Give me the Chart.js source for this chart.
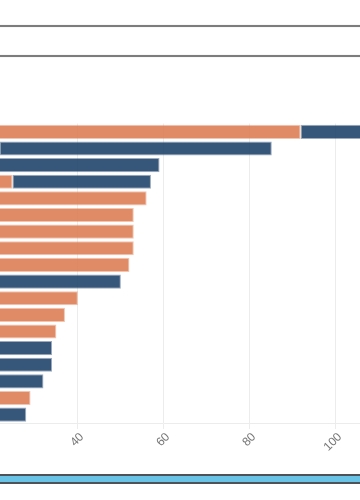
<!DOCTYPE html>
<html>
<head>
<meta charset="utf-8">
<script src="https://cdn.jsdelivr.net/npm/chart.js@4.4.1/dist/chart.umd.min.js"></script>
<style>
  html, body { margin: 0; padding: 0; background: #fff; width: 360px; height: 500px; overflow: hidden; }
  #frame { position: absolute; left: 0; top: 0; width: 360px; height: 500px; overflow: hidden; background: #fff; }
  .rule { position: absolute; left: 0; width: 360px; height: 2px; background: #7c7c7c; box-shadow: 0 0 1px #bbb; }
  #wrap { position: absolute; left: -135px; top: 0; width: 620px; height: 500px; }
  #bar { position: absolute; left: 0; top: 474px; width: 360px; height: 6px; background: #68c3e6; border-top: 2px solid #4d5358; border-bottom: 2px solid #4d5358; }
</style>
</head>
<body>
<div id="frame">
  <div class="rule" style="top:24.5px"></div>
  <div class="rule" style="top:54.5px"></div>
  <div id="wrap"><canvas id="c"></canvas></div>
  <div id="bar"></div>
</div>
<script>
const categories = ["1","2","3","4","5","6","7","8","9","10","11","12","13","14","15","16","17","18"];
const orangeValues = [92, 22, 0, 25, 56.2, 53.2, 53.2, 53.2, 52.2, 0, 40.2, 37.2, 35.2, 0, 0, 0, 29.2, 0];
const blueValues   = [24, 63.3, 59.2, 32.2, 0, 0, 0, 0, 0, 50.2, 0, 0, 0, 34.2, 34.2, 32.2, 0, 28.2];
const xTicks = [0, 20, 40, 60, 80, 100, 120];

new Chart(document.getElementById('c'), {
  type: 'bar',
  data: {
    labels: categories,
    datasets: [
      { data: orangeValues, backgroundColor: 'rgba(221,126,84,0.9)', borderColor: 'rgba(221,126,84,0.45)', borderWidth: 1, borderSkipped: false, barPercentage: 0.85, categoryPercentage: 1 },
      { data: blueValues, backgroundColor: 'rgba(33,69,107,0.9)', borderColor: 'rgba(33,69,107,0.45)', borderWidth: 1, borderSkipped: false, barPercentage: 0.85, categoryPercentage: 1 }
    ]
  },
  options: {
    indexAxis: 'y',
    responsive: true,
    maintainAspectRatio: false,
    animation: false,
    layout: { padding: { left: 40, top: 123.5, right: 64, bottom: 0 } },
    plugins: { legend: { display: false }, tooltip: { enabled: false } },
    scales: {
      y: { stacked: true, display: false },
      x: {
        stacked: true,
        min: xTicks[0],
        max: xTicks[xTicks.length - 1],
        afterBuildTicks: s => { s.ticks = xTicks.map(v => ({ value: v })); },
        afterFit: s => { s.height = 77; },
        grid: { color: '#ececec', tickLength: 6 },
        border: { color: '#ececec' },
        ticks: { color: '#777777', font: { size: 12 }, minRotation: 45, maxRotation: 45, padding: 1, labelOffset: 5 }
      }
    }
  }
});
</script>
</body>
</html>
